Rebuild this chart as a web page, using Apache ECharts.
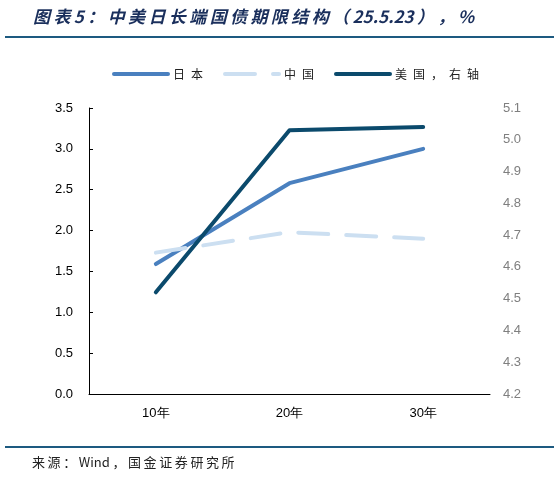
<!DOCTYPE html>
<html>

<head>
    <meta charset="utf-8">
    <title>中美日长端国债期限结构</title>
    <style>
        html, body { margin: 0; padding: 0; background: #fff; }
        #main { width: 559px; height: 478px; }
    </style>
</head>

<body>
    <div id="main"></div>
</body>
<script type="text/javascript" src="https://cdn.jsdelivr.net/npm/echarts@6/dist/echarts.min.js"></script>
<script type="text/javascript">
    // 数据
    var titleText = '图表5：中美日长端国债期限结构（25.5.23），%';
    var sourceText = '来源：Wind，国金证券研究所';
    var terms = ['10年', '20年', '30年'];
    var seriesNames = ['日本', '中国', '美国，右轴'];
    var japanYield = [1.59, 2.58, 3.00];
    var chinaYield = [1.73, 1.98, 1.90];
    var usYield = [4.52, 5.03, 5.04];

    var cjkFont = '"Noto Sans CJK SC", sans-serif';
    var numFont = '"Liberation Sans", Arial, sans-serif';

    // 字间距：只在中文字符旁加空隙
    function isCjk(c) {
        return /[\u3000-\u9fff\uff00-\uffef]/.test(c);
    }
    function spaced(s, sep) {
        var out = '';
        for (var i = 0; i < s.length; i++) {
            out += s[i];
            if (i < s.length - 1 && (isCjk(s[i]) || isCjk(s[i + 1]))) {
                out += sep;
            }
        }
        return out;
    }

    var myChart = echarts.init(document.getElementById('main'));

    var option = {
        animation: false,
        color: ['#4A80BF', '#CCDFF1', '#0B4A6C'],
        legend: {
            data: seriesNames,
            left: 107,
            top: 63,
            itemWidth: 54,
            itemHeight: 14,
            itemGap: 20,
            itemStyle: { opacity: 0 },
            lineStyle: { width: 4, cap: 'round' },
            textStyle: {
                fontFamily: cjkFont,
                fontSize: 12,
                color: '#222'
            },
            formatter: function(name) {
                return spaced(name, '\u2002');
            }
        },
        grid: {
            left: 89,
            right: 69,
            top: 108,
            bottom: 84
        },
        xAxis: {
            type: 'category',
            data: terms,
            boundaryGap: true,
            axisLine: { lineStyle: { color: '#000', width: 1 } },
            axisTick: { inside: true, length: 4, lineStyle: { color: '#000' } },
            axisLabel: {
                margin: 13,
                fontFamily: numFont,
                fontSize: 13,
                color: '#000'
            }
        },
        yAxis: [{
            type: 'value',
            min: 0,
            max: 3.5,
            interval: 0.5,
            axisLine: { show: true, lineStyle: { color: '#000', width: 1 } },
            axisTick: { show: true, inside: true, length: 4, lineStyle: { color: '#000' } },
            splitLine: { show: false },
            axisLabel: {
                margin: 16,
                fontFamily: numFont,
                fontSize: 13,
                color: '#000',
                formatter: function(v) { return v.toFixed(1); }
            }
        }, {
            type: 'value',
            min: 4.2,
            max: 5.1,
            interval: 0.1,
            position: 'right',
            axisLine: { show: false },
            axisTick: { show: false },
            splitLine: { show: false },
            axisLabel: {
                margin: 13,
                fontFamily: numFont,
                fontSize: 13,
                color: '#7F7F7F',
                formatter: function(v) { return v.toFixed(1); }
            }
        }],
        series: [{
            name: seriesNames[0],
            type: 'line',
            data: japanYield,
            symbol: 'none',
            lineStyle: { width: 4, cap: 'round', join: 'round' }
        }, {
            name: seriesNames[1],
            type: 'line',
            data: chinaYield,
            symbol: 'none',
            lineStyle: { width: 4, type: [30, 18], cap: 'round', join: 'round' }
        }, {
            name: seriesNames[2],
            type: 'line',
            yAxisIndex: 1,
            data: usYield,
            symbol: 'none',
            lineStyle: { width: 4, cap: 'round', join: 'round' }
        }],
        graphic: [{
            type: 'text',
            left: 33,
            top: 8,
            style: {
                text: spaced(titleText, '\u2009'),
                font: 'italic bold 17px ' + cjkFont,
                fill: '#1A2F5C'
            }
        }, {
            type: 'line',
            shape: { x1: 5, y1: 37, x2: 554, y2: 37 },
            style: { stroke: '#1D5A80', lineWidth: 2 }
        }, {
            type: 'line',
            shape: { x1: 5, y1: 447, x2: 554, y2: 447 },
            style: { stroke: '#1D5A80', lineWidth: 2 }
        }, {
            type: 'text',
            left: 32,
            top: 456,
            style: {
                text: spaced(sourceText, '\u2009'),
                font: '13px ' + cjkFont,
                fill: '#222'
            }
        }]
    };

    myChart.setOption(option);
</script>

</html>
